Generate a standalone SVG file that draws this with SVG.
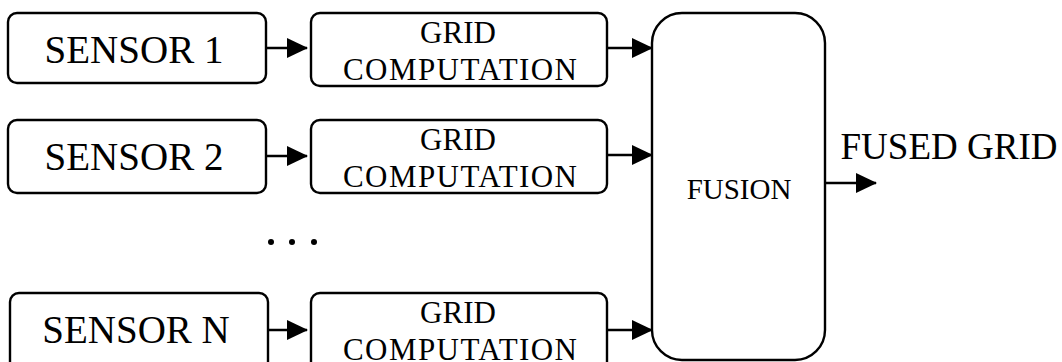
<svg xmlns="http://www.w3.org/2000/svg" width="1062" height="362" viewBox="0 0 1062 362">
  <style>
    .box { fill: #ffffff; stroke: #000000; stroke-width: 2.4; }
    .lbl { fill: #000000; text-anchor: middle; }
    .sensor { font-size: 39px; }
    .grid { font-size: 31px; }
    .link { stroke: #000000; stroke-width: 2.6; fill: none; marker-end: url(#head); }
  </style>
  <defs>
    <marker id="head" viewBox="0 0 21 20" refX="20" refY="10" markerWidth="21" markerHeight="20" markerUnits="userSpaceOnUse" orient="auto">
      <path d="M0,0 L21,10 L0,20 Z" fill="#000000"/>
    </marker>
  </defs>
  <rect width="1062" height="362" fill="#ffffff"/>

  <g font-family="'Liberation Serif', 'DejaVu Serif', 'Times New Roman', serif">
    <!-- sensor column -->
    <g id="sensor-1">
      <rect class="box" x="8" y="13" width="258" height="70" rx="9"/>
      <text class="lbl sensor" x="134" y="63">SENSOR 1</text>
    </g>
    <g id="sensor-2">
      <rect class="box" x="8" y="120" width="258" height="73" rx="9"/>
      <text class="lbl sensor" x="134" y="170">SENSOR 2</text>
    </g>
    <g id="sensor-n">
      <rect class="box" x="10" y="293" width="258" height="80" rx="9"/>
      <text class="lbl sensor" x="136" y="343">SENSOR N</text>
    </g>

    <!-- grid computation column -->
    <g id="grid-1">
      <rect class="box" x="311" y="13" width="296" height="73" rx="9"/>
      <text class="lbl grid" x="458" y="43">GRID</text>
      <text class="lbl grid" x="460" y="80" textLength="234" lengthAdjust="spacing">COMPUTATION</text>
    </g>
    <g id="grid-2">
      <rect class="box" x="311" y="120" width="296" height="73" rx="9"/>
      <text class="lbl grid" x="458" y="150">GRID</text>
      <text class="lbl grid" x="460" y="187" textLength="234" lengthAdjust="spacing">COMPUTATION</text>
    </g>
    <g id="grid-n">
      <rect class="box" x="311" y="293" width="296" height="80" rx="9"/>
      <text class="lbl grid" x="458" y="323">GRID</text>
      <text class="lbl grid" x="460" y="360" textLength="234" lengthAdjust="spacing">COMPUTATION</text>
    </g>

    <!-- ellipsis between sensor 2 and sensor N -->
    <g id="ellipsis" fill="#000000">
      <circle cx="271" cy="242" r="3"/>
      <circle cx="292" cy="242" r="3"/>
      <circle cx="314" cy="242" r="3"/>
    </g>

    <!-- fusion block -->
    <g id="fusion">
      <rect class="box" x="652" y="13" width="173" height="347" rx="30"/>
      <text class="lbl" x="739" y="199" font-size="29">FUSION</text>
    </g>

    <!-- output label -->
    <g id="fused-grid">
      <text class="lbl" x="949" y="159" font-size="37">FUSED GRID</text>
    </g>
  </g>

  <!-- connectors -->
  <g id="connectors">
    <line class="link" x1="266" y1="48" x2="307" y2="48"/>
    <line class="link" x1="266" y1="156" x2="307" y2="156"/>
    <line class="link" x1="268" y1="330" x2="307" y2="330"/>
    <line class="link" x1="607" y1="48" x2="652" y2="48"/>
    <line class="link" x1="607" y1="155" x2="652" y2="155"/>
    <line class="link" x1="607" y1="330" x2="652" y2="330"/>
    <line class="link" x1="825" y1="183" x2="876" y2="183"/>
  </g>
</svg>
